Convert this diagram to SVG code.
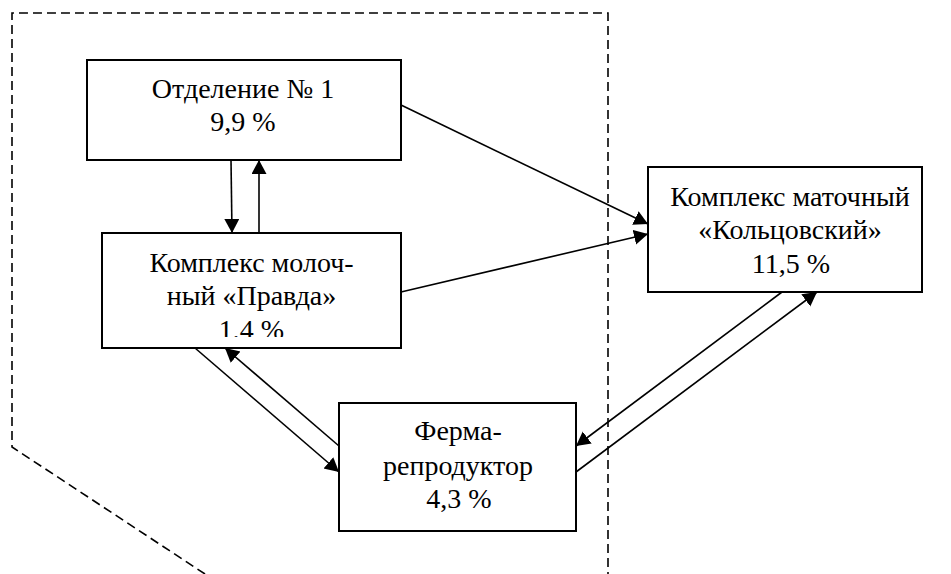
<svg xmlns="http://www.w3.org/2000/svg" width="951" height="574" viewBox="0 0 951 574">
<style>
.box{fill:#fff;stroke:#000;stroke-width:2}
.t{font-family:'Liberation Serif','Times New Roman',serif;font-size:28px;fill:#000;text-anchor:middle}
.c{fill:none;stroke:#000;stroke-width:1.6;marker-end:url(#ah)}
.d{fill:none;stroke:#000;stroke-width:1.6;stroke-dasharray:9,5}
</style>
<defs>
<marker id="ah" markerUnits="userSpaceOnUse" markerWidth="16" markerHeight="16" refX="14" refY="7.5" orient="auto">
<path d="M0,0 L14,7.5 L0,15 Z" fill="#000"/>
</marker>
<clipPath id="clip2"><rect x="102" y="233" width="299" height="104"/></clipPath>
</defs>
<g id="boundary">
<path class="d" d="M205,574 L12,447 L12,13 L608,13 L608,574"/>
</g>
<g id="connectors">
<line class="c" x1="231" y1="160" x2="232" y2="233"/>
<line class="c" x1="259" y1="233" x2="259" y2="160"/>
<line class="c" x1="401" y1="105" x2="648" y2="224"/>
<line class="c" x1="401" y1="292" x2="648" y2="234"/>
<line class="c" x1="195" y1="348" x2="339" y2="472"/>
<line class="c" x1="339" y1="446" x2="225" y2="348"/>
<line class="c" x1="782" y1="292" x2="576" y2="446"/>
<line class="c" x1="576" y1="472" x2="817" y2="292"/>
</g>
<g id="node1">
<rect class="box" x="87" y="60" width="314" height="100"/>
<text class="t" x="243" y="98">Отделение № 1</text>
<text class="t" x="243" y="131">9,9 %</text>
</g>
<g id="node2">
<rect class="box" x="102" y="233" width="299" height="115"/>
<g clip-path="url(#clip2)">
<text class="t" x="251.5" y="272">Комплекс молоч-</text>
<text class="t" x="251.5" y="305">ный «Правда»</text>
<text class="t" x="251.5" y="339">1,4 %</text>
</g>
</g>
<g id="node3">
<rect class="box" x="648" y="167" width="274" height="125"/>
<text class="t" x="790" y="206">Комплекс маточный</text>
<text class="t" x="790" y="239">«Кольцовский»</text>
<text class="t" x="791" y="273">11,5 %</text>
</g>
<g id="node4">
<rect class="box" x="339" y="403" width="237" height="128"/>
<text class="t" x="458" y="440">Ферма-</text>
<text class="t" x="458" y="475">репродуктор</text>
<text class="t" x="459" y="508">4,3 %</text>
</g>
</svg>
